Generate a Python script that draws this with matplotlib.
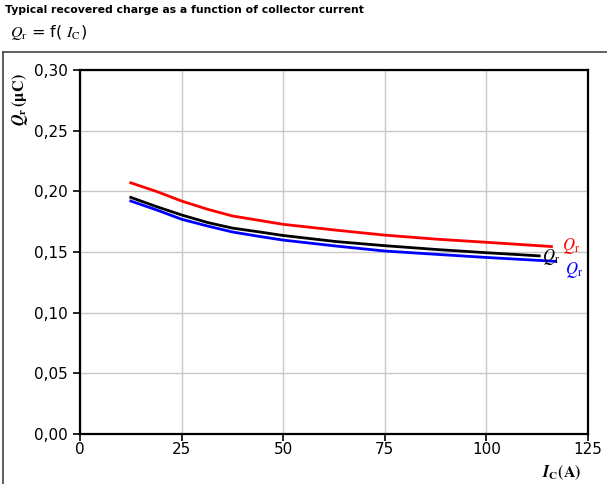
import matplotlib
matplotlib.use('Agg')
import matplotlib.pyplot as plt
from matplotlib.ticker import FuncFormatter

plt.rcParams['mathtext.fontset'] = 'stix'
plt.rcParams['font.family'] = ['DejaVu Sans']

# recovered charge curves, Qr in uC vs Ic in A
ic_red = [12.5, 19, 25, 31.5, 37.5, 44, 50, 63, 75, 88, 100, 116]
qr_red = [0.207, 0.1997, 0.192, 0.1851, 0.1797, 0.1761, 0.1728, 0.168, 0.1639, 0.1605, 0.158, 0.1545]

ic_black = [12.5, 19, 25, 31.5, 37.5, 44, 50, 63, 75, 88, 100, 113]
qr_black = [0.195, 0.1872, 0.1805, 0.1742, 0.1697, 0.1666, 0.1636, 0.1586, 0.1552, 0.152, 0.1494, 0.1468]

ic_blue = [12.5, 19, 25, 31.5, 37.5, 44, 50, 63, 75, 88, 100, 117]
qr_blue = [0.192, 0.1845, 0.177, 0.1713, 0.1665, 0.1629, 0.1598, 0.1549, 0.1508, 0.148, 0.1455, 0.1423]

x_ticks = [0, 25, 50, 75, 100, 125]
y_ticks = [0.0, 0.05, 0.10, 0.15, 0.20, 0.25, 0.30]

fig = plt.figure(figsize=(6.07, 4.84), dpi=100)
ax = fig.add_axes([0.1318, 0.1033, 0.8369, 0.7521])

ax.plot(ic_red, qr_red, color='#ff0000', lw=2, solid_joinstyle='round')
ax.plot(ic_black, qr_black, color='black', lw=2, solid_joinstyle='round')
ax.plot(ic_blue, qr_blue, color='#0000ff', lw=2, solid_joinstyle='round')

ax.text(ic_red[-1] + 2.7, qr_red[-1] + 0.0008, r'$Q_\mathrm{r}$', color='#ff0000',
        fontsize=12, va='center', ha='left')
ax.text(ic_black[-1] + 0.8, qr_black[-1] - 0.0008, r'$Q_\mathrm{r}$', color='black',
        fontsize=12, va='center', ha='left')
ax.text(ic_blue[-1] + 2.4, qr_blue[-1] - 0.0075, r'$Q_\mathrm{r}$', color='#0000ff',
        fontsize=12, va='center', ha='left')

ax.set_xlim(0, 125)
ax.set_ylim(0, 0.30)
ax.set_xticks(x_ticks)
ax.set_yticks(y_ticks)
ax.xaxis.set_major_formatter(FuncFormatter(lambda v, p: '%d' % v))
ax.yaxis.set_major_formatter(FuncFormatter(lambda v, p: ('%.2f' % v).replace('.', ',')))
ax.tick_params(axis='both', direction='out', length=5, width=1.2, labelsize=11, color='black')
ax.tick_params(axis='x', pad=1)
ax.grid(True, color='#c8c8c8', lw=1)
ax.set_axisbelow(True)
for s in ax.spines.values():
    s.set_linewidth(1.6)

# outer frame of the panel
fig.add_artist(plt.Line2D([3 / 607, 1], [1 - 52 / 484, 1 - 52 / 484],
                          transform=fig.transFigure, color='#444444', lw=1.2))
fig.add_artist(plt.Line2D([3 / 607, 3 / 607], [0, 1 - 52 / 484],
                          transform=fig.transFigure, color='#444444', lw=1.2))

fig.text(5 / 607, 1 - 10 / 484, 'Typical recovered charge as a function of collector current',
         fontsize=7.8, fontweight='bold', va='center', ha='left')
fig.text(10 / 607, 1 - 33 / 484, r'$Q_\mathrm{r}$ = f( $I_\mathrm{C}$)',
         fontsize=11.5, va='center', ha='left')

fig.text(20 / 607, 1 - 100 / 484, r'$\boldsymbol{Q}_\mathbf{r}\,\mathbf{(\mu C)}$',
         fontsize=11.5, rotation=90, va='center', ha='center')
fig.text(562 / 607, 1 - 473 / 484, r'$\boldsymbol{I}_\mathbf{C}\mathbf{(A)}$',
         fontsize=11.5, va='center', ha='center')

fig.savefig('out.png', dpi=100)
